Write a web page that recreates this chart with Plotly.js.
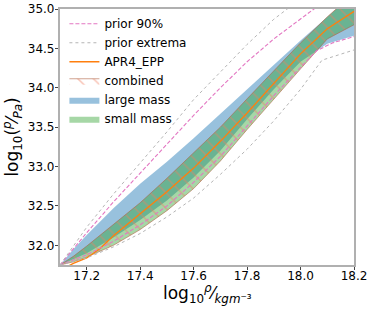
<!DOCTYPE html>
<html><head><meta charset="utf-8">
<script src="https://cdn.plot.ly/plotly-3.0.1.min.js"></script>
<style>html,body{margin:0;padding:0;background:#fff}#chart{width:374px;height:312px}</style>
</head><body><div id="chart"></div>
<script>
// log10 density grid (kg m^-3)
const densityGrid = [17.10, 17.15, 17.20, 17.30, 17.40, 17.50, 17.60, 17.70, 17.80, 17.90, 18.00, 18.10, 18.20];
// large mass band (log10 pressure)
const largeLower = [31.75, 31.82, 31.90, 32.10, 32.32, 32.57, 32.86, 33.20, 33.60, 33.98, 34.33, 34.56, 34.66];
const largeUpper = [31.75, 31.95, 32.13, 32.47, 32.78, 33.06, 33.36, 33.67, 33.98, 34.30, 34.60, 34.90, 35.20];
// small mass band
const smallLower = [31.75, 31.79, 31.85, 32.00, 32.20, 32.44, 32.72, 33.07, 33.47, 33.86, 34.24, 34.62, 34.80];
const smallUpper = [31.75, 31.86, 31.99, 32.26, 32.54, 32.85, 33.17, 33.50, 33.86, 34.22, 34.57, 34.90, 35.20];
// combined band (hatched)
const combinedLower = [31.75, 31.79, 31.85, 32.00, 32.20, 32.44, 32.72, 33.07, 33.47, 33.86, 34.24, 34.62, 34.80];
const combinedUpper = [31.75, 31.86, 31.99, 32.26, 32.54, 32.85, 33.17, 33.50, 33.86, 34.22, 34.57, 34.90, 35.20];
// APR4_EPP equation of state
const apr4X = [17.11, 17.15, 17.20, 17.25, 17.30, 17.40, 17.50, 17.60, 17.70, 17.80, 17.90, 18.00, 18.10, 18.20];
const apr4Y = [31.70, 31.77, 31.84, 31.96, 32.12, 32.40, 32.68, 32.98, 33.32, 33.68, 34.06, 34.43, 34.75, 34.97];
// prior 90% bounds
const prior90UpperX = [17.10, 17.20, 17.30, 17.40, 17.50, 17.60, 17.70, 17.80, 17.90, 18.00, 18.05, 18.10];
const prior90UpperY = [31.75, 32.16, 32.55, 32.92, 33.28, 33.65, 34.00, 34.33, 34.62, 34.88, 35.00, 35.10];
const prior90LowerX = [17.10, 17.20, 17.30, 17.40, 17.50, 17.60, 17.70, 17.80, 17.90, 18.00, 18.06, 18.12, 18.20];
const prior90LowerY = [31.75, 31.88, 32.05, 32.26, 32.50, 32.80, 33.13, 33.52, 33.90, 34.26, 34.47, 34.57, 34.65];
// prior extrema bounds
const extremaUpperX = [17.10, 17.20, 17.30, 17.40, 17.50, 17.60, 17.70, 17.80, 17.90, 17.95, 18.00];
const extremaUpperY = [31.75, 32.23, 32.65, 33.04, 33.44, 33.85, 34.20, 34.55, 34.87, 35.00, 35.10];
const extremaLowerX = [17.10, 17.20, 17.30, 17.40, 17.50, 17.60, 17.70, 17.80, 17.90, 18.00, 18.08, 18.20];
const extremaLowerY = [31.75, 31.84, 31.98, 32.15, 32.36, 32.60, 32.90, 33.22, 33.58, 33.98, 34.35, 34.48];

const xTicks = [17.2, 17.4, 17.6, 17.8, 18.0, 18.2];
const yTicks = [32.0, 32.5, 33.0, 33.5, 34.0, 34.5, 35.0];

const blueFill = 'rgba(31,119,180,0.46)';
const greenFill = 'rgba(44,160,44,0.42)';
const edgeBrown = 'rgba(175,100,70,0.85)';

const traces = [
  {x: densityGrid, y: largeLower, mode: 'lines', line: {width: 0}, showlegend: false, hoverinfo: 'skip'},
  {x: densityGrid, y: largeUpper, mode: 'lines', line: {width: 0}, fill: 'tonexty', fillcolor: blueFill,
   name: 'large mass', legendrank: 5},
  {x: densityGrid, y: smallLower, mode: 'lines', line: {width: 0}, showlegend: false, hoverinfo: 'skip'},
  {x: densityGrid, y: smallUpper, mode: 'lines', line: {width: 0}, fill: 'tonexty', fillcolor: greenFill,
   name: 'small mass', legendrank: 6},
  {x: densityGrid, y: combinedLower, mode: 'lines', line: {width: 0.7, color: edgeBrown}, showlegend: false, hoverinfo: 'skip'},
  {x: densityGrid, y: combinedUpper, mode: 'lines', line: {width: 0.7, color: edgeBrown}, fill: 'tonexty',
   fillcolor: 'rgba(0,0,0,0)',
   fillpattern: {shape: '\\', fgcolor: 'rgba(240,125,95,0.95)', bgcolor: 'rgba(0,0,0,0)', size: 11, solidity: 0.14, fillmode: 'overlay'},
   name: 'combined', legendrank: 4},
  {x: apr4X, y: apr4Y, mode: 'lines', line: {width: 1.3, color: '#ff7f0e'}, name: 'APR4_EPP', legendrank: 3},
  {x: prior90UpperX, y: prior90UpperY, mode: 'lines', line: {width: 1.1, color: '#e377c2', dash: '4px,2px'},
   name: 'prior 90%', legendrank: 1},
  {x: prior90LowerX, y: prior90LowerY, mode: 'lines', line: {width: 1.1, color: '#e377c2', dash: '4px,2px'},
   showlegend: false, legendrank: 1},
  {x: extremaUpperX, y: extremaUpperY, mode: 'lines', line: {width: 1, color: '#b5b5b5', dash: 'dot'},
   name: 'prior extrema', legendrank: 2},
  {x: extremaLowerX, y: extremaLowerY, mode: 'lines', line: {width: 1, color: '#b5b5b5', dash: 'dot'},
   showlegend: false, legendrank: 2}
];

const axisCommon = {
  showgrid: false, zeroline: false, showline: true, mirror: true,
  linecolor: '#b0b0b0', linewidth: 1.6, ticks: 'outside', ticklen: 3.5, tickwidth: 1, tickcolor: '#444',
  tickformat: '.1f', tickfont: {size: 12, color: '#000'}
};

const layout = {
  width: 374, height: 312,
  margin: {l: 60, r: 20, t: 9, b: 47},
  paper_bgcolor: '#fff', plot_bgcolor: '#fff',
  font: {family: 'DejaVu Sans', size: 12, color: '#000'},
  xaxis: Object.assign({}, axisCommon, {
    range: [17.1, 18.2], tickmode: 'array', tickvals: xTicks, ticklabelstandoff: -5
  }),
  yaxis: Object.assign({}, axisCommon, {
    range: [31.75, 35.0], tickmode: 'array', tickvals: yTicks, ticklabelstandoff: -2,
    title: {text: 'log<sub>10</sub>(<sup><i>p</i></sup>⁄<sub><i>Pa</i></sub>)', font: {size: 17}, standoff: 8}
  }),
  annotations: [{
    text: 'log<sub>10</sub><sup><i>ρ</i></sup>⁄<sub><i>kgm</i>⁻³</sub>',
    xref: 'paper', yref: 'paper', x: 0.5, y: -0.113, xanchor: 'center', yanchor: 'middle',
    showarrow: false, font: {size: 17, color: '#000'}
  }],
  showlegend: true,
  legend: {x: 0.015, y: 0.999, xanchor: 'left', yanchor: 'top', bgcolor: 'rgba(0,0,0,0)',
           font: {size: 12}, itemwidth: 30, traceorder: 'normal'}
};

Plotly.newPlot('chart', traces, layout, {displayModeBar: false, staticPlot: true});
</script>
</body></html>
